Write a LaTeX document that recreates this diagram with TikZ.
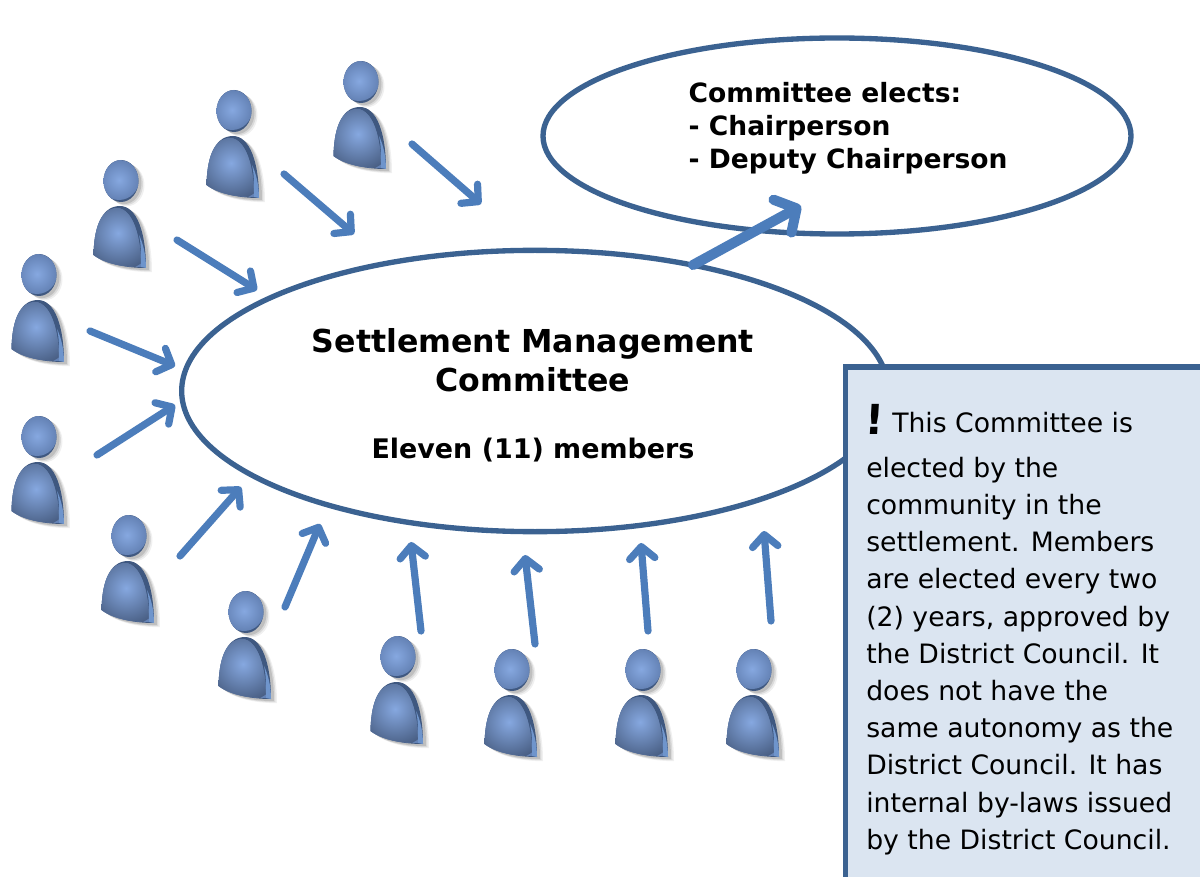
\documentclass[tikz,border=0pt]{standalone}
\usepackage{fontspec}
\setmainfont{DejaVu Sans}
\usetikzlibrary{shapes.geometric,arrows.meta}
\definecolor{rim}{HTML}{3B6291}
\definecolor{arrowblue}{HTML}{4C7DBB}
\definecolor{boxfill}{HTML}{DBE5F1}
\definecolor{personedge}{HTML}{3F5880}
\definecolor{personlight}{HTML}{86A8E0}
\definecolor{personmid}{HTML}{6482B5}
\definecolor{personside}{HTML}{6F95CC}
\tikzset{
  px/.style={x=0.75pt,y=-0.75pt},
  ring/.style={ellipse,draw=rim,line width=4pt,fill=white,inner sep=0pt},
  vote/.style={draw=arrowblue,line width=5.4pt,line cap=round,line join=round,-{Straight Barb[length=9pt,width=19pt,round]}},
  bigvote/.style={draw=arrowblue,line width=7.6pt,line cap=round,line join=round,-{Straight Barb[length=12pt,width=28pt,round]}},
  person/.pic={
    \foreach \o/\a in {6/.06,4.5/.09,3/.12}{
      \fill[black,opacity=\a,shift={(\o,\o*.7)}] (0,0) ellipse (17.5 and 21);
      \fill[black,opacity=\a,shift={(\o,\o*.7)}] (-27.5,74) .. controls (-27,50) and (-21,25) .. (-1,25)
         .. controls (16,25) and (25,52) .. (25,87) .. controls (8,87) and (-14,84) .. (-27.5,74) -- cycle;
    }
    \begin{scope}
      \clip (0,0) ellipse (17.5 and 21);
      \fill[fill=personedge] (-20,-24) rectangle (20,24);
      \shade[inner color=personlight,outer color=personmid] (-2,-1) circle (20);
    \end{scope}
    \fill[personedge] (-27.5,74) .. controls (-27,50) and (-21,25) .. (-1,25)
         .. controls (16,25) and (25,52) .. (25,87) .. controls (8,87) and (-14,84) .. (-27.5,74) -- cycle;
    \begin{scope}
      \clip (-27.5,74) .. controls (-27,51) and (-22,27) .. (-3,27)
         .. controls (12,29) and (20,55) .. (20,86) .. controls (6,86) and (-14,84) .. (-27.5,74) -- cycle;
      \fill[personmid] (-30,20) rectangle (30,90);
      \shade[inner color=personlight,outer color=personmid!72!black] (-3,52) circle (38);
    \end{scope}
    \fill[personside] (20,86) .. controls (20,70) and (20,62) .. (18,54) .. controls (22,62) and (25,74) .. (25,87) -- cycle;
  }
}
\begin{document}
\begin{tikzpicture}[px]
\clip (0,0) rectangle (1200,877);
\foreach \n/\x/\y in {p1/361/82,p2/234/111,p3/121/181,p4/39/275,p5/39/437,p6/129/536,p7/246/612,p8/398/657,p9/512/670,p10/643/670,p11/754/670}
  \pic (\n) at (\x,\y) {person};
\coordinate (a1s) at (412,144);  \coordinate (a1e) at (481,204);
\coordinate (a2s) at (284,174);  \coordinate (a2e) at (354,234);
\coordinate (a3s) at (177,240);  \coordinate (a3e) at (257,290);
\coordinate (a4s) at (90,331);   \coordinate (a4e) at (175,366);
\coordinate (a5s) at (97,455);   \coordinate (a5e) at (175,405);
\coordinate (a6s) at (180,556);  \coordinate (a6e) at (241,487);
\coordinate (a7s) at (285,607);  \coordinate (a7e) at (320,524);
\coordinate (a8s) at (421,631);  \coordinate (a8e) at (411,542);
\coordinate (a9s) at (535,644);  \coordinate (a9e) at (525,555);
\coordinate (a10s) at (648,631); \coordinate (a10e) at (641,543);
\coordinate (a11s) at (771,621); \coordinate (a11e) at (764,531);
\foreach \i in {1,...,11} \draw[vote] (a\i s) -- (a\i e);
\node[ring,minimum width=530pt,minimum height=211pt] (main) at (535,391) {};
\node[ring,minimum width=441pt,minimum height=147pt] (elect) at (837,136) {};
\node[font=\bfseries\fontsize{23.7}{29.5}\selectfont,align=center] (title) at (533,360) {Settlement Management\\Committee};
\node[font=\bfseries\fontsize{20.2}{24}\selectfont] (count) at (533,450) {Eleven (11) members};
\node[font=\bfseries\fontsize{19.9}{24.6}\selectfont,align=left,anchor=west] (electtext) at (684,128) {Committee elects:\\- Chairperson\\- Deputy Chairperson};
\coordinate (bigs) at (693,265);
\coordinate (bige) at (801,206);
\draw[bigvote] (bigs) -- (bige);
\node[draw=rim,line width=3.8pt,fill=boxfill,anchor=north west,minimum width=274pt,minimum height=424pt] (note) at (842.5,364.5) {};
\node[anchor=north west,inner sep=0pt,align=left,font=\fontsize{20}{27.9}\selectfont] (notetext) at (866,411.5) {\hspace*{19.5pt}This Committee is\\[6pt]
elected by the\\community in the\\settlement. Members\\are elected every two\\(2) years, approved by\\the District Council. It\\does not have the\\same autonomy as the\\District Council. It has\\internal by-laws issued\\by the District Council.};
\node[font=\bfseries\fontsize{31}{31}\selectfont,inner sep=0pt,xslant=0.06,transform shape] (bang) at (875,419) {!};
\end{tikzpicture}
\end{document}
